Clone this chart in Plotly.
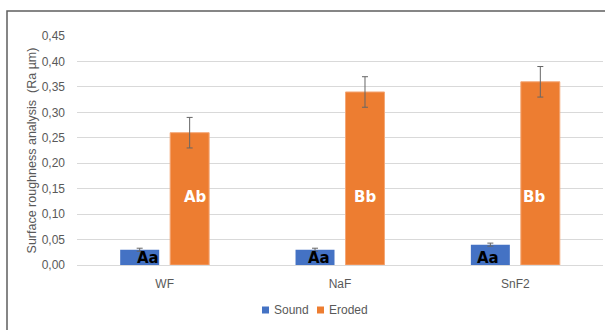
import plotly.graph_objects as go

# Surface roughness (Ra, µm) by treatment group
categories = ["WF", "NaF", "SnF2"]
sound = [0.03, 0.03, 0.04]
sound_err = [0.003, 0.003, 0.003]
eroded = [0.26, 0.34, 0.36]
eroded_err = [0.03, 0.03, 0.03]
sound_letters = ["Aa", "Aa", "Aa"]
eroded_letters = ["Ab", "Bb", "Bb"]
y_ticks = [0.00, 0.05, 0.10, 0.15, 0.20, 0.25, 0.30, 0.35, 0.40, 0.45]
series_names = ["Sound", "Eroded"]

BLUE = "#4472C4"
ORANGE = "#ED7D31"
GREY_TEXT = "#595959"
GRID = "#D9D9D9"
FONT = "Liberation Sans"

# plot area geometry (px) used to place the frame and the legend
L, R, T, B, W, H = 77, 2, 36, 65, 605, 330
PW, PH = W - L - R, H - T - B


def px_x(px):
    return (px - L) / PW


def px_y(py):
    return (H - B - py) / PH


# horizontal nudges (px) for the letter labels
sound_dx = [-17, -21, -27]
eroded_dx = [31, 25, 19]
sound_label_y = 0.014
eroded_label_y = 0.134

fig = go.Figure()
fig.add_trace(go.Bar(
    x=categories, y=sound, name=series_names[0], marker=dict(color=BLUE, line=dict(width=0)),
    error_y=dict(type="data", array=sound_err, color="#666666", thickness=1, width=3),
    showlegend=False,
))
fig.add_trace(go.Bar(
    x=categories, y=eroded, name=series_names[1],
    marker=dict(color=ORANGE, line=dict(color="#F4A777", width=1)),
    error_y=dict(type="data", array=eroded_err, color="#666666", thickness=1, width=3),
    showlegend=False,
))

annotations = []
for cat, txt, dx in zip(categories, sound_letters, sound_dx):
    annotations.append(dict(
        x=cat, y=sound_label_y, text=txt, xshift=dx, showarrow=False,
        yanchor="middle", font=dict(family="DejaVu Sans", size=15, color="black", weight="bold"),
    ))
for cat, txt, dx in zip(categories, eroded_letters, eroded_dx):
    annotations.append(dict(
        x=cat, y=eroded_label_y, text=txt, xshift=dx, showarrow=False,
        yanchor="middle", font=dict(family="DejaVu Sans", size=15, color="white", weight="bold"),
    ))

# compact legend: small square swatch followed by the series name
shapes = []
legend_y = 310
for name, color, sx in zip(series_names, [BLUE, ORANGE], [262, 317]):
    shapes.append(dict(type="rect", xref="paper", yref="paper",
                       x0=px_x(sx), x1=px_x(sx + 7),
                       y0=px_y(legend_y + 3.5), y1=px_y(legend_y - 3.5),
                       fillcolor=color, line=dict(width=0)))
    annotations.append(dict(
        xref="paper", yref="paper", x=px_x(sx + 10), y=px_y(legend_y),
        xanchor="left", yanchor="middle", text=name, showarrow=False,
        font=dict(family=FONT, size=12, color=GREY_TEXT),
    ))

# chart frame
shapes.append(dict(type="rect", xref="paper", yref="paper",
                   x0=px_x(7), y0=-1.0, x1=2.0, y1=px_y(11),
                   line=dict(color="#5F5F5F", width=1.5), layer="below"))

fig.update_layout(
    width=W, height=H,
    margin=dict(l=L, r=R, t=T, b=B),
    paper_bgcolor="white", plot_bgcolor="white",
    separators=", ",
    barmode="group", bargap=0.43, bargroupgap=0.22,
    showlegend=False,
    font=dict(family=FONT, size=12, color=GREY_TEXT),
    xaxis=dict(showgrid=False, showline=False, ticks="", ticklabelstandoff=10,
               tickfont=dict(size=12, color=GREY_TEXT)),
    yaxis=dict(
        range=[0, 0.45], tickvals=y_ticks, tickformat=".2f",
        showgrid=True, gridcolor=GRID, gridwidth=1,
        zeroline=True, zerolinecolor=GRID, zerolinewidth=1,
        showline=False, ticks="", ticklabelstandoff=11,
        tickfont=dict(size=12, color=GREY_TEXT),
        title=dict(text="Surface roughness analysis  (Ra µm)", standoff=2,
                   font=dict(size=12.5, color=GREY_TEXT)),
    ),
    annotations=annotations,
    shapes=shapes,
)

fig.write_html("out.html")
